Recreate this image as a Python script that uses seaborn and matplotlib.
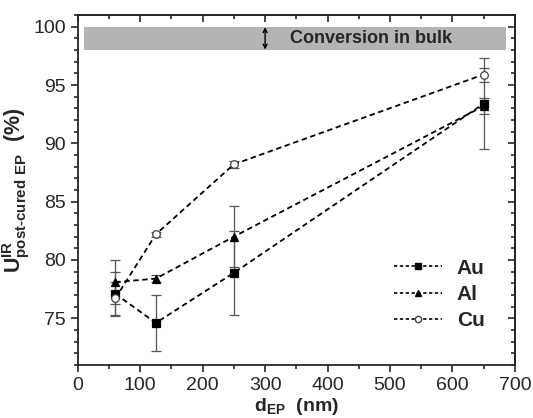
import seaborn as sns
import numpy as np
import pandas as pd
import matplotlib.pyplot as plt
from matplotlib.lines import Line2D
from matplotlib.ticker import MultipleLocator

# thickness of the EP layer (nm)
d_ep = [60, 125, 250, 650]

# conversion values (%) and error bars per metal
au_vals = [77.1, 74.6, 78.9, 93.4]
au_err = [1.9, 2.4, 3.6, 3.9]
al_vals = [78.1, 78.4, 82.0, 93.2]
al_err = [1.9, 0.3, 2.6, 0.7]
cu_vals = [76.7, 82.2, 88.2, 95.9]
cu_err = [1.4, 0.2, 0.3, 0.6]

metals = ['Au', 'Al', 'Cu']

df = pd.DataFrame({
    'd': d_ep * 3,
    'U': au_vals + al_vals + cu_vals,
    'err': au_err + al_err + cu_err,
    'metal': ['Au'] * 4 + ['Al'] * 4 + ['Cu'] * 4,
})

sns.set_theme(style='ticks')
plt.rcParams['font.family'] = ['Liberation Sans', 'DejaVu Sans']
plt.rcParams['mathtext.fontset'] = 'custom'
plt.rcParams['mathtext.bf'] = 'Liberation Sans:bold'
plt.rcParams['mathtext.rm'] = 'Liberation Sans'

fig = plt.figure(figsize=(5.33, 4.18), dpi=100)
ax = fig.add_axes([0.146, 0.127, 0.82, 0.837])

markers = {'Au': 's', 'Al': '^', 'Cu': 'o'}
mfc = {'Au': 'black', 'Al': 'black', 'Cu': 'white'}
mec = {'Au': 'black', 'Al': 'black', 'Cu': '#444444'}

# error bars first (grey, thin)
for m in metals:
    sub = df[df.metal == m]
    ax.errorbar(sub.d, sub.U, yerr=sub.err, fmt='none', ecolor='#555555',
                elinewidth=0.9, capsize=3.5, capthick=0.9, zorder=2)

sns.lineplot(data=df, x='d', y='U', units='metal', estimator=None,
             color='black', linestyle=(0, (3, 2)), linewidth=1.3, ax=ax,
             legend=False, zorder=3)

for m in metals:
    sub = df[df.metal == m]
    ax.plot(sub.d, sub.U, linestyle='none', marker=markers[m], ms=5.5,
            mfc=mfc[m], mec=mec[m], mew=0.9, zorder=4)

# grey band: bulk conversion
ax.fill_between([10, 685], 98, 100, color='#b4b4b4', zorder=1, lw=0)
ax.annotate('', xy=(300, 97.8), xytext=(300, 100.2),
            arrowprops=dict(arrowstyle='<->', lw=1.0, color='black',
                            mutation_scale=7), zorder=5)
ax.text(470, 99.0, 'Conversion in bulk', ha='center', va='center',
        fontsize=13, fontweight='bold', zorder=5)

ax.set_xlim(0, 700)
ax.set_ylim(71, 101)
ax.xaxis.set_major_locator(MultipleLocator(100))
ax.xaxis.set_minor_locator(MultipleLocator(50))
ax.yaxis.set_minor_locator(MultipleLocator(1))
ax.set_yticks([75, 80, 85, 90, 95, 100])

ax.tick_params(which='both', direction='out', labelsize=14, width=1.2)
ax.tick_params(which='major', length=5)
ax.tick_params(which='minor', length=3)
for s in ax.spines.values():
    s.set_linewidth(1.3)

top = ax.secondary_xaxis('top')
top.xaxis.set_major_locator(MultipleLocator(100))
top.xaxis.set_minor_locator(MultipleLocator(50))
top.tick_params(which='both', direction='in', labeltop=False, width=1.2)
top.tick_params(which='major', length=5)
top.tick_params(which='minor', length=3)
right = ax.secondary_yaxis('right')
right.yaxis.set_major_locator(MultipleLocator(5))
right.yaxis.set_minor_locator(MultipleLocator(1))
right.tick_params(which='both', direction='in', labelright=False, width=1.2)
right.tick_params(which='major', length=5)
right.tick_params(which='minor', length=3)

ax.set_xlabel(r'$\mathbf{d_{EP}}$  (nm)', fontsize=14, fontweight='bold', labelpad=2)
ax.set_ylabel('$\\mathbf{U^{IR}_{post\u2010cured\\ EP}}$  (%)', fontsize=15.5,
              fontweight='bold', labelpad=1)

handles = [Line2D([], [], color='black', linestyle=(0, (2, 1.5)), lw=1.2,
                  marker=markers[m], ms=4.5, mfc=mfc[m], mec=mec[m])
           for m in metals]
leg = ax.legend(handles, metals, loc='lower right', bbox_to_anchor=(0.95, 0.075),
                borderaxespad=0, frameon=False, handlelength=2.3, handletextpad=0.7,
                labelspacing=0.35, prop={'size': 15, 'weight': 'bold'})

fig.savefig('out.png', dpi=100)
